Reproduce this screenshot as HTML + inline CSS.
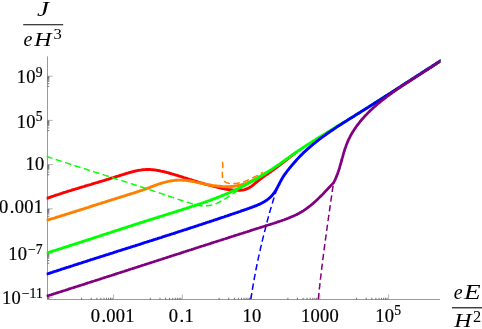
<!DOCTYPE html>
<html><head><meta charset="utf-8">
<style>
html,body{margin:0;padding:0;background:#fff;}
body{width:482px;height:329px;overflow:hidden;position:relative;font-family:"Liberation Serif",serif;}
svg{position:absolute;left:0;top:0;opacity:0.999;will-change:transform;}
text{font-family:"Liberation Serif",serif;fill:#000;}
</style></head><body>
<svg width="482" height="329" viewBox="0 0 482 329">
<rect width="482" height="329" fill="#fff"/>
<defs><clipPath id="pr"><rect x="46.5" y="50" width="394" height="249.3"/></clipPath></defs>
<!-- axes -->
<g stroke="#9a9a9a" stroke-width="1" fill="none">
<line x1="47.5" y1="56.4" x2="47.5" y2="300"/>
<line x1="47" y1="299.5" x2="440" y2="299.5"/>
</g>
<g id="ticks" fill="none">
<line x1="113.6" y1="299.5" x2="113.6" y2="294.4" stroke="#999" stroke-width="0.7"/>
<line x1="81.6" y1="299.5" x2="81.6" y2="297.8" stroke="#333" stroke-width="0.7"/>
<line x1="91.2" y1="299.5" x2="91.2" y2="297.8" stroke="#333" stroke-width="0.7"/>
<line x1="96.9" y1="299.5" x2="96.9" y2="297.8" stroke="#333" stroke-width="0.7"/>
<line x1="100.9" y1="299.5" x2="100.9" y2="297.8" stroke="#333" stroke-width="0.7"/>
<line x1="104.0" y1="299.5" x2="104.0" y2="297.8" stroke="#333" stroke-width="0.7"/>
<line x1="106.5" y1="299.5" x2="106.5" y2="297.8" stroke="#333" stroke-width="0.7"/>
<line x1="108.6" y1="299.5" x2="108.6" y2="297.8" stroke="#333" stroke-width="0.7"/>
<line x1="110.5" y1="299.5" x2="110.5" y2="297.8" stroke="#333" stroke-width="0.7"/>
<line x1="112.1" y1="299.5" x2="112.1" y2="297.8" stroke="#333" stroke-width="0.7"/>
<line x1="182.35" y1="299.5" x2="182.35" y2="294.4" stroke="#999" stroke-width="0.7"/>
<line x1="150.3" y1="299.5" x2="150.3" y2="297.8" stroke="#333" stroke-width="0.7"/>
<line x1="160.0" y1="299.5" x2="160.0" y2="297.8" stroke="#333" stroke-width="0.7"/>
<line x1="165.6" y1="299.5" x2="165.6" y2="297.8" stroke="#333" stroke-width="0.7"/>
<line x1="169.6" y1="299.5" x2="169.6" y2="297.8" stroke="#333" stroke-width="0.7"/>
<line x1="172.7" y1="299.5" x2="172.7" y2="297.8" stroke="#333" stroke-width="0.7"/>
<line x1="175.3" y1="299.5" x2="175.3" y2="297.8" stroke="#333" stroke-width="0.7"/>
<line x1="177.4" y1="299.5" x2="177.4" y2="297.8" stroke="#333" stroke-width="0.7"/>
<line x1="179.2" y1="299.5" x2="179.2" y2="297.8" stroke="#333" stroke-width="0.7"/>
<line x1="180.9" y1="299.5" x2="180.9" y2="297.8" stroke="#333" stroke-width="0.7"/>
<line x1="251.1" y1="299.5" x2="251.1" y2="294.4" stroke="#999" stroke-width="0.7"/>
<line x1="219.1" y1="299.5" x2="219.1" y2="297.8" stroke="#333" stroke-width="0.7"/>
<line x1="228.7" y1="299.5" x2="228.7" y2="297.8" stroke="#333" stroke-width="0.7"/>
<line x1="234.4" y1="299.5" x2="234.4" y2="297.8" stroke="#333" stroke-width="0.7"/>
<line x1="238.4" y1="299.5" x2="238.4" y2="297.8" stroke="#333" stroke-width="0.7"/>
<line x1="241.5" y1="299.5" x2="241.5" y2="297.8" stroke="#333" stroke-width="0.7"/>
<line x1="244.0" y1="299.5" x2="244.0" y2="297.8" stroke="#333" stroke-width="0.7"/>
<line x1="246.1" y1="299.5" x2="246.1" y2="297.8" stroke="#333" stroke-width="0.7"/>
<line x1="248.0" y1="299.5" x2="248.0" y2="297.8" stroke="#333" stroke-width="0.7"/>
<line x1="249.6" y1="299.5" x2="249.6" y2="297.8" stroke="#333" stroke-width="0.7"/>
<line x1="319.85" y1="299.5" x2="319.85" y2="294.4" stroke="#999" stroke-width="0.7"/>
<line x1="287.9" y1="299.5" x2="287.9" y2="297.8" stroke="#333" stroke-width="0.7"/>
<line x1="297.5" y1="299.5" x2="297.5" y2="297.8" stroke="#333" stroke-width="0.7"/>
<line x1="303.1" y1="299.5" x2="303.1" y2="297.8" stroke="#333" stroke-width="0.7"/>
<line x1="307.1" y1="299.5" x2="307.1" y2="297.8" stroke="#333" stroke-width="0.7"/>
<line x1="310.2" y1="299.5" x2="310.2" y2="297.8" stroke="#333" stroke-width="0.7"/>
<line x1="312.8" y1="299.5" x2="312.8" y2="297.8" stroke="#333" stroke-width="0.7"/>
<line x1="314.9" y1="299.5" x2="314.9" y2="297.8" stroke="#333" stroke-width="0.7"/>
<line x1="316.7" y1="299.5" x2="316.7" y2="297.8" stroke="#333" stroke-width="0.7"/>
<line x1="318.4" y1="299.5" x2="318.4" y2="297.8" stroke="#333" stroke-width="0.7"/>
<line x1="388.6" y1="299.5" x2="388.6" y2="294.4" stroke="#999" stroke-width="0.7"/>
<line x1="356.6" y1="299.5" x2="356.6" y2="297.8" stroke="#333" stroke-width="0.7"/>
<line x1="366.2" y1="299.5" x2="366.2" y2="297.8" stroke="#333" stroke-width="0.7"/>
<line x1="371.9" y1="299.5" x2="371.9" y2="297.8" stroke="#333" stroke-width="0.7"/>
<line x1="375.9" y1="299.5" x2="375.9" y2="297.8" stroke="#333" stroke-width="0.7"/>
<line x1="379.0" y1="299.5" x2="379.0" y2="297.8" stroke="#333" stroke-width="0.7"/>
<line x1="381.5" y1="299.5" x2="381.5" y2="297.8" stroke="#333" stroke-width="0.7"/>
<line x1="383.6" y1="299.5" x2="383.6" y2="297.8" stroke="#333" stroke-width="0.7"/>
<line x1="385.5" y1="299.5" x2="385.5" y2="297.8" stroke="#333" stroke-width="0.7"/>
<line x1="387.1" y1="299.5" x2="387.1" y2="297.8" stroke="#333" stroke-width="0.7"/>
<line x1="47.5" y1="76.2" x2="52.8" y2="76.2" stroke="#999" stroke-width="0.7"/>
<line x1="47.5" y1="86.4" x2="49.3" y2="86.4" stroke="#444" stroke-width="0.7"/>
<line x1="47.5" y1="83.7" x2="49.3" y2="83.7" stroke="#444" stroke-width="0.7"/>
<line x1="47.5" y1="81.4" x2="49.3" y2="81.4" stroke="#444" stroke-width="0.7"/>
<line x1="47.5" y1="80.2" x2="49.3" y2="80.2" stroke="#444" stroke-width="0.7"/>
<line x1="47.5" y1="79.2" x2="49.3" y2="79.2" stroke="#444" stroke-width="0.7"/>
<line x1="47.5" y1="78.3" x2="49.3" y2="78.3" stroke="#444" stroke-width="0.7"/>
<line x1="47.5" y1="77.5" x2="49.3" y2="77.5" stroke="#444" stroke-width="0.7"/>
<line x1="47.5" y1="76.8" x2="49.3" y2="76.8" stroke="#444" stroke-width="0.7"/>
<line x1="47.5" y1="120.4" x2="52.8" y2="120.4" stroke="#999" stroke-width="0.7"/>
<line x1="47.5" y1="130.6" x2="49.3" y2="130.6" stroke="#444" stroke-width="0.7"/>
<line x1="47.5" y1="127.9" x2="49.3" y2="127.9" stroke="#444" stroke-width="0.7"/>
<line x1="47.5" y1="125.6" x2="49.3" y2="125.6" stroke="#444" stroke-width="0.7"/>
<line x1="47.5" y1="124.4" x2="49.3" y2="124.4" stroke="#444" stroke-width="0.7"/>
<line x1="47.5" y1="123.4" x2="49.3" y2="123.4" stroke="#444" stroke-width="0.7"/>
<line x1="47.5" y1="122.5" x2="49.3" y2="122.5" stroke="#444" stroke-width="0.7"/>
<line x1="47.5" y1="121.7" x2="49.3" y2="121.7" stroke="#444" stroke-width="0.7"/>
<line x1="47.5" y1="121.0" x2="49.3" y2="121.0" stroke="#444" stroke-width="0.7"/>
<line x1="47.5" y1="164.6" x2="52.8" y2="164.6" stroke="#999" stroke-width="0.7"/>
<line x1="47.5" y1="174.8" x2="49.3" y2="174.8" stroke="#444" stroke-width="0.7"/>
<line x1="47.5" y1="172.1" x2="49.3" y2="172.1" stroke="#444" stroke-width="0.7"/>
<line x1="47.5" y1="169.8" x2="49.3" y2="169.8" stroke="#444" stroke-width="0.7"/>
<line x1="47.5" y1="168.6" x2="49.3" y2="168.6" stroke="#444" stroke-width="0.7"/>
<line x1="47.5" y1="167.6" x2="49.3" y2="167.6" stroke="#444" stroke-width="0.7"/>
<line x1="47.5" y1="166.7" x2="49.3" y2="166.7" stroke="#444" stroke-width="0.7"/>
<line x1="47.5" y1="165.9" x2="49.3" y2="165.9" stroke="#444" stroke-width="0.7"/>
<line x1="47.5" y1="165.2" x2="49.3" y2="165.2" stroke="#444" stroke-width="0.7"/>
<line x1="47.5" y1="208.8" x2="52.8" y2="208.8" stroke="#999" stroke-width="0.7"/>
<line x1="47.5" y1="219.0" x2="49.3" y2="219.0" stroke="#444" stroke-width="0.7"/>
<line x1="47.5" y1="216.3" x2="49.3" y2="216.3" stroke="#444" stroke-width="0.7"/>
<line x1="47.5" y1="214.0" x2="49.3" y2="214.0" stroke="#444" stroke-width="0.7"/>
<line x1="47.5" y1="212.8" x2="49.3" y2="212.8" stroke="#444" stroke-width="0.7"/>
<line x1="47.5" y1="211.8" x2="49.3" y2="211.8" stroke="#444" stroke-width="0.7"/>
<line x1="47.5" y1="210.9" x2="49.3" y2="210.9" stroke="#444" stroke-width="0.7"/>
<line x1="47.5" y1="210.1" x2="49.3" y2="210.1" stroke="#444" stroke-width="0.7"/>
<line x1="47.5" y1="209.4" x2="49.3" y2="209.4" stroke="#444" stroke-width="0.7"/>
<line x1="47.5" y1="253.0" x2="52.8" y2="253.0" stroke="#999" stroke-width="0.7"/>
<line x1="47.5" y1="263.2" x2="49.3" y2="263.2" stroke="#444" stroke-width="0.7"/>
<line x1="47.5" y1="260.5" x2="49.3" y2="260.5" stroke="#444" stroke-width="0.7"/>
<line x1="47.5" y1="258.2" x2="49.3" y2="258.2" stroke="#444" stroke-width="0.7"/>
<line x1="47.5" y1="257.0" x2="49.3" y2="257.0" stroke="#444" stroke-width="0.7"/>
<line x1="47.5" y1="256.0" x2="49.3" y2="256.0" stroke="#444" stroke-width="0.7"/>
<line x1="47.5" y1="255.1" x2="49.3" y2="255.1" stroke="#444" stroke-width="0.7"/>
<line x1="47.5" y1="254.3" x2="49.3" y2="254.3" stroke="#444" stroke-width="0.7"/>
<line x1="47.5" y1="253.6" x2="49.3" y2="253.6" stroke="#444" stroke-width="0.7"/>
<line x1="47.5" y1="297.2" x2="52.8" y2="297.2" stroke="#999" stroke-width="0.7"/>
<line x1="47.5" y1="298.5" x2="49.3" y2="298.5" stroke="#444" stroke-width="0.7"/>
<line x1="47.5" y1="297.8" x2="49.3" y2="297.8" stroke="#444" stroke-width="0.7"/>
</g>
<!-- solid -->
<g fill="none" stroke-linejoin="round" clip-path="url(#pr)">
<path stroke="#ff0000" stroke-width="2.9" d="M46.4,198.5 L47.4,198.2 L48.3,197.8 L49.3,197.5 L50.2,197.2 L51.2,196.8 L52.1,196.5 L53.1,196.2 L54.0,195.9 L55.0,195.5 L55.9,195.2 L56.9,194.9 L57.8,194.6 L58.8,194.3 L59.7,194.0 L60.7,193.7 L61.6,193.4 L62.6,193.0 L63.5,192.7 L64.5,192.4 L65.5,192.1 L66.4,191.8 L67.4,191.5 L68.3,191.2 L69.3,190.9 L70.2,190.6 L71.2,190.3 L72.1,190.0 L73.1,189.7 L74.0,189.5 L75.0,189.2 L75.9,188.9 L76.9,188.6 L77.8,188.3 L78.8,188.0 L79.7,187.7 L80.7,187.4 L81.6,187.1 L82.6,186.8 L83.5,186.6 L84.5,186.3 L85.4,186.0 L86.4,185.7 L87.4,185.4 L88.3,185.1 L89.3,184.8 L90.2,184.6 L91.2,184.3 L92.1,184.0 L93.1,183.7 L94.0,183.4 L95.0,183.1 L95.9,182.8 L96.9,182.6 L97.8,182.3 L98.8,182.0 L99.8,181.7 L100.7,181.4 L101.7,181.1 L102.6,180.8 L103.6,180.6 L104.5,180.3 L105.5,180.0 L106.5,179.7 L107.4,179.4 L108.4,179.1 L109.3,178.8 L110.3,178.5 L111.2,178.2 L112.2,177.9 L113.2,177.6 L114.1,177.3 L115.1,177.0 L116.0,176.7 L117.0,176.4 L118.0,176.1 L118.9,175.8 L119.9,175.5 L120.8,175.2 L121.8,174.9 L122.8,174.6 L123.7,174.3 L124.7,174.0 L125.7,173.7 L126.6,173.4 L127.6,173.1 L128.6,172.8 L129.5,172.5 L130.5,172.3 L131.5,172.0 L132.4,171.8 L133.4,171.5 L134.4,171.3 L135.3,171.0 L136.3,170.8 L137.3,170.6 L138.3,170.4 L139.2,170.3 L140.2,170.1 L141.2,170.0 L142.2,169.8 L143.2,169.7 L144.2,169.6 L145.1,169.6 L146.1,169.5 L147.1,169.5 L148.1,169.5 L149.1,169.5 L150.1,169.5 L151.1,169.6 L152.1,169.7 L153.1,169.8 L154.1,169.9 L155.1,170.0 L156.1,170.1 L157.1,170.3 L158.1,170.5 L159.0,170.7 L160.0,170.8 L161.0,171.1 L162.0,171.3 L163.0,171.5 L164.0,171.7 L165.0,172.0 L165.9,172.2 L166.9,172.5 L167.9,172.7 L168.9,173.0 L169.8,173.3 L170.8,173.5 L171.7,173.8 L172.7,174.1 L173.7,174.4 L174.6,174.7 L175.6,175.0 L176.5,175.2 L177.5,175.5 L178.4,175.8 L179.4,176.1 L180.3,176.4 L181.3,176.7 L182.2,177.0 L183.2,177.3 L184.1,177.6 L185.1,177.9 L186.0,178.2 L187.0,178.5 L187.9,178.8 L188.9,179.1 L189.8,179.4 L190.8,179.7 L191.7,180.0 L192.7,180.3 L193.6,180.6 L194.6,180.9 L195.6,181.2 L196.5,181.5 L197.5,181.8 L198.4,182.1 L199.4,182.4 L200.3,182.7 L201.3,183.0 L202.3,183.2 L203.2,183.5 L204.2,183.8 L205.1,184.1 L206.1,184.3 L207.1,184.6 L208.0,184.9 L209.0,185.2 L210.0,185.4 L210.9,185.7 L211.9,185.9 L212.9,186.2 L213.8,186.4 L214.8,186.7 L215.8,186.9 L216.8,187.2 L217.7,187.4 L218.7,187.6 L219.7,187.9 L220.7,188.1 L221.6,188.3 L222.6,188.5 L223.6,188.7 L224.6,188.9 L225.5,189.1 L226.5,189.3 L227.5,189.4 L228.5,189.6 L229.5,189.7 L230.5,189.8 L231.5,189.9 L232.5,190.0 L233.5,190.1 L234.5,190.2 L235.5,190.2 L236.5,190.3 L237.5,190.3 L238.5,190.3 L239.5,190.2 L240.5,190.2 L241.5,190.1 L242.5,190.0 L243.5,189.8 L244.5,189.6 L245.4,189.3 L246.4,189.0 L247.3,188.6 L248.2,188.2 L249.1,187.8 L250.0,187.3 L250.8,186.7 L251.6,186.2 L252.4,185.6 L253.2,185.0 L254.0,184.3 L254.7,183.7 L255.5,183.0 L256.3,182.4 L257.1,181.7 L257.8,181.1 L258.6,180.5 L259.4,179.8 L260.2,179.2 L261.0,178.6 L261.8,178.0 L262.6,177.4 L263.4,176.8 L264.2,176.3 L265.0,175.7 L265.8,175.1 L266.7,174.5 L267.5,174.0 L268.3,173.4 L269.1,172.8 L269.9,172.2 L270.8,171.7 L271.6,171.1 L272.4,170.5 L273.2,169.9 L274.0,169.3 L274.8,168.8 L275.6,168.2 L276.4,167.6 L277.2,167.0 L278.0,166.4 L278.8,165.8 L279.6,165.2 L280.4,164.5 L281.2,163.9 L282.0,163.3 L282.8,162.7 L283.6,162.1 L284.4,161.5 L285.2,160.9 L285.9,160.2 L286.7,159.6 L287.5,159.0 L288.3,158.4 L289.1,157.8 L289.9,157.2 L290.7,156.5 L291.5,155.9 L292.3,155.3 L293.0,154.7 L293.8,154.1 L294.6,153.5 L295.4,152.9 L296.2,152.3 L296.7,151.9"/>
<path stroke="#ff8000" stroke-width="2.9" d="M46.4,220.4 L47.4,220.1 L48.3,219.8 L49.3,219.5 L50.2,219.2 L51.2,218.9 L52.1,218.6 L53.1,218.4 L54.1,218.1 L55.0,217.8 L56.0,217.5 L56.9,217.2 L57.9,216.9 L58.8,216.6 L59.8,216.3 L60.7,216.0 L61.7,215.7 L62.7,215.4 L63.6,215.1 L64.6,214.8 L65.5,214.5 L66.5,214.2 L67.4,213.9 L68.4,213.6 L69.3,213.3 L70.3,213.0 L71.2,212.7 L72.2,212.4 L73.1,212.1 L74.1,211.8 L75.1,211.5 L76.0,211.2 L77.0,210.9 L77.9,210.6 L78.9,210.3 L79.8,210.0 L80.8,209.7 L81.7,209.4 L82.7,209.1 L83.6,208.8 L84.6,208.5 L85.5,208.2 L86.5,207.9 L87.4,207.6 L88.4,207.3 L89.3,207.0 L90.3,206.6 L91.2,206.3 L92.2,206.0 L93.1,205.7 L94.1,205.4 L95.1,205.1 L96.0,204.8 L97.0,204.5 L97.9,204.2 L98.9,203.9 L99.8,203.6 L100.8,203.3 L101.7,203.0 L102.7,202.7 L103.6,202.4 L104.6,202.1 L105.5,201.8 L106.5,201.5 L107.4,201.2 L108.4,200.9 L109.3,200.6 L110.3,200.3 L111.3,200.0 L112.2,199.7 L113.2,199.4 L114.1,199.1 L115.1,198.8 L116.0,198.5 L117.0,198.2 L117.9,197.9 L118.9,197.6 L119.8,197.3 L120.8,197.0 L121.8,196.7 L122.7,196.4 L123.7,196.1 L124.6,195.8 L125.6,195.5 L126.5,195.2 L127.5,194.9 L128.4,194.6 L129.4,194.3 L130.4,194.0 L131.3,193.7 L132.3,193.4 L133.2,193.1 L134.2,192.8 L135.1,192.5 L136.1,192.2 L137.0,191.9 L138.0,191.5 L138.9,191.2 L139.9,190.9 L140.8,190.6 L141.8,190.3 L142.7,190.0 L143.7,189.6 L144.6,189.3 L145.6,189.0 L146.5,188.6 L147.4,188.3 L148.4,187.9 L149.3,187.6 L150.2,187.2 L151.2,186.9 L152.1,186.5 L153.0,186.2 L153.9,185.8 L154.9,185.5 L155.8,185.1 L156.7,184.8 L157.7,184.4 L158.6,184.1 L159.6,183.8 L160.5,183.5 L161.5,183.2 L162.4,182.9 L163.4,182.6 L164.4,182.3 L165.4,182.1 L166.3,181.8 L167.3,181.6 L168.3,181.4 L169.3,181.2 L170.3,181.0 L171.3,180.8 L172.3,180.7 L173.3,180.6 L174.3,180.4 L175.3,180.3 L176.2,180.2 L177.2,180.2 L178.2,180.1 L179.2,180.1 L180.2,180.1 L181.2,180.1 L182.2,180.1 L183.2,180.2 L184.2,180.2 L185.2,180.3 L186.2,180.4 L187.2,180.5 L188.1,180.7 L189.1,180.8 L190.1,181.0 L191.1,181.2 L192.1,181.3 L193.0,181.5 L194.0,181.7 L195.0,181.9 L196.0,182.1 L197.0,182.4 L197.9,182.6 L198.9,182.8 L199.9,183.0 L200.9,183.2 L201.9,183.4 L202.9,183.6 L203.9,183.8 L204.8,184.0 L205.8,184.2 L206.8,184.4 L207.8,184.6 L208.8,184.8 L209.8,185.0 L210.8,185.2 L211.8,185.3 L212.8,185.5 L213.8,185.6 L214.8,185.8 L215.7,185.9 L216.7,186.0 L217.7,186.1 L218.7,186.2 L219.7,186.3 L220.7,186.4 L221.7,186.5 L222.7,186.6 L223.7,186.6 L224.7,186.6 L225.7,186.7 L226.7,186.7 L227.7,186.7 L228.6,186.6 L229.6,186.6 L230.6,186.5 L231.6,186.5 L232.6,186.4 L233.6,186.3 L234.6,186.2 L235.6,186.0 L236.5,185.9 L237.5,185.7 L238.5,185.5 L239.5,185.3 L240.5,185.1 L241.4,184.8 L242.4,184.5 L243.4,184.2 L244.3,183.9 L245.3,183.6 L246.2,183.3 L247.2,182.9 L248.1,182.5 L249.1,182.2 L250.0,181.8 L250.9,181.3 L251.8,180.9 L252.7,180.5 L253.6,180.1 L254.5,179.6 L255.4,179.1 L256.3,178.7 L257.1,178.2 L258.0,177.7 L258.9,177.2 L259.7,176.7 L260.6,176.2 L261.4,175.7 L262.3,175.2 L263.2,174.7 L264.0,174.2 L264.9,173.7 L265.7,173.2 L266.6,172.7 L266.7,172.6"/>
<path stroke="#ff8000" stroke-width="1.5" stroke-dasharray="6.4,3.45" d="M222.5,161.8 L222.6,162.8 L222.7,163.9 L222.8,164.9 L222.8,165.9 L222.7,166.9 L222.7,167.8 L222.6,168.8 L222.5,169.8 L222.5,170.8 L222.4,171.7 L222.4,172.7 L222.3,173.7 L222.4,174.7 L222.4,175.8 L222.5,176.8 L222.7,177.9 L223.0,178.9 L223.3,179.9 L223.8,180.7 L224.5,181.4 L225.2,182.0 L226.0,182.4 L227.0,182.8 L227.9,183.1 L228.9,183.3 L230.0,183.4 L231.0,183.5 L232.0,183.5 L233.0,183.6 L234.0,183.5 L235.0,183.5 L236.0,183.4 L237.0,183.3 L238.0,183.1 L238.9,183.0 L239.9,182.8 L240.9,182.5 L241.8,182.3 L242.8,182.0 L243.8,181.7 L244.7,181.4 L245.6,181.0 L246.6,180.6 L247.5,180.3 L248.4,179.9 L249.4,179.5 L250.3,179.0 L251.2,178.6 L252.1,178.2 L253.0,177.7 L253.9,177.2 L254.8,176.8 L255.7,176.3 L256.6,175.8 L257.5,175.3 L258.3,174.9 L259.2,174.4 L260.1,173.9 L260.9,173.4 L261.8,172.9 L262.7,172.5 L263.0,172.3"/>
<path stroke="#00ff00" stroke-width="2.9" d="M46.4,253.1 L47.4,252.8 L48.3,252.5 L49.3,252.2 L50.2,251.9 L51.2,251.6 L52.1,251.3 L53.1,251.0 L54.0,250.7 L55.0,250.4 L55.9,250.1 L56.9,249.8 L57.8,249.5 L58.8,249.2 L59.7,248.9 L60.7,248.6 L61.6,248.3 L62.6,248.0 L63.5,247.7 L64.5,247.4 L65.4,247.1 L66.4,246.8 L67.4,246.5 L68.3,246.2 L69.3,245.8 L70.2,245.5 L71.2,245.2 L72.1,244.9 L73.1,244.6 L74.0,244.3 L75.0,244.0 L75.9,243.7 L76.9,243.4 L77.8,243.1 L78.8,242.8 L79.7,242.5 L80.7,242.2 L81.6,241.9 L82.6,241.5 L83.5,241.2 L84.5,240.9 L85.4,240.6 L86.4,240.3 L87.3,240.0 L88.3,239.7 L89.2,239.4 L90.2,239.1 L91.1,238.8 L92.1,238.5 L93.1,238.1 L94.0,237.8 L95.0,237.5 L95.9,237.2 L96.9,236.9 L97.8,236.6 L98.8,236.3 L99.7,236.0 L100.7,235.7 L101.6,235.4 L102.6,235.0 L103.5,234.7 L104.5,234.4 L105.4,234.1 L106.4,233.8 L107.3,233.5 L108.3,233.2 L109.2,232.9 L110.2,232.6 L111.1,232.3 L112.1,231.9 L113.0,231.6 L114.0,231.3 L114.9,231.0 L115.9,230.7 L116.8,230.4 L117.8,230.1 L118.7,229.8 L119.7,229.5 L120.6,229.2 L121.6,228.8 L122.6,228.5 L123.5,228.2 L124.5,227.9 L125.4,227.6 L126.4,227.3 L127.3,227.0 L128.3,226.7 L129.2,226.4 L130.2,226.1 L131.1,225.8 L132.1,225.5 L133.0,225.2 L134.0,224.9 L134.9,224.5 L135.9,224.2 L136.8,223.9 L137.8,223.6 L138.7,223.3 L139.7,223.0 L140.6,222.7 L141.6,222.4 L142.5,222.1 L143.5,221.8 L144.4,221.5 L145.4,221.2 L146.4,220.9 L147.3,220.6 L148.3,220.3 L149.2,220.0 L150.2,219.7 L151.1,219.4 L152.1,219.1 L153.0,218.8 L154.0,218.5 L154.9,218.2 L155.9,217.9 L156.8,217.6 L157.8,217.3 L158.7,217.0 L159.7,216.7 L160.6,216.4 L161.6,216.1 L162.6,215.8 L163.5,215.5 L164.5,215.2 L165.4,214.9 L166.4,214.6 L167.3,214.3 L168.3,214.0 L169.2,213.7 L170.2,213.4 L171.1,213.1 L172.1,212.8 L173.0,212.5 L174.0,212.2 L174.9,211.9 L175.9,211.6 L176.8,211.3 L177.8,211.0 L178.8,210.7 L179.7,210.4 L180.7,210.1 L181.6,209.8 L182.6,209.5 L183.5,209.2 L184.5,208.9 L185.4,208.6 L186.4,208.3 L187.3,208.0 L188.3,207.7 L189.2,207.4 L190.2,207.0 L191.1,206.7 L192.1,206.4 L193.0,206.1 L194.0,205.8 L194.9,205.5 L195.9,205.2 L196.8,204.9 L197.8,204.5 L198.7,204.2 L199.7,203.9 L200.6,203.6 L201.6,203.3 L202.5,202.9 L203.5,202.6 L204.4,202.3 L205.4,202.0 L206.3,201.6 L207.3,201.3 L208.2,200.9 L209.2,200.6 L210.1,200.3 L211.0,199.9 L212.0,199.6 L212.9,199.2 L213.9,198.9 L214.8,198.5 L215.7,198.2 L216.7,197.8 L217.6,197.5 L218.5,197.1 L219.5,196.7 L220.4,196.4 L221.3,196.0 L222.2,195.6 L223.2,195.2 L224.1,194.9 L225.0,194.5 L225.9,194.1 L226.9,193.7 L227.8,193.3 L228.7,192.9 L229.6,192.5 L230.5,192.1 L231.4,191.7 L232.3,191.3 L233.3,190.9 L234.2,190.5 L235.1,190.0 L236.0,189.6 L236.9,189.2 L237.8,188.8 L238.7,188.3 L239.6,187.9 L240.5,187.4 L241.4,187.0 L242.2,186.5 L243.1,186.1 L244.0,185.6 L244.9,185.2 L245.8,184.7 L246.7,184.2 L247.6,183.8 L248.4,183.3 L249.3,182.8 L250.2,182.3 L251.1,181.8 L251.9,181.3 L252.8,180.9 L253.7,180.4 L254.5,179.9 L255.4,179.4 L256.3,178.9 L257.1,178.4 L258.0,177.9 L258.9,177.3 L259.7,176.8 L260.6,176.3 L261.4,175.8 L262.3,175.3 L263.1,174.7 L264.0,174.2 L264.8,173.7 L265.7,173.2 L266.5,172.6 L267.4,172.1 L268.2,171.6 L269.1,171.0 L269.9,170.5 L270.7,169.9 L271.6,169.4 L272.4,168.8 L273.2,168.3 L274.1,167.7 L274.9,167.2 L275.7,166.6 L276.6,166.0 L277.4,165.5 L278.2,164.9 L279.1,164.4 L279.9,163.8 L280.7,163.2 L281.5,162.6 L282.3,162.1 L283.2,161.5 L284.0,160.9 L284.8,160.3 L285.6,159.8 L286.4,159.2 L287.2,158.6 L288.1,158.0 L288.9,157.5 L289.7,156.9 L290.5,156.3 L291.3,155.7 L292.1,155.1 L293.0,154.6 L293.8,154.0 L294.6,153.4 L295.4,152.9 L296.2,152.3 L297.1,151.7 L297.9,151.1 L298.7,150.6 L299.5,150.0 L300.4,149.5 L301.2,148.9 L302.0,148.3 L302.8,147.8 L303.7,147.2 L304.5,146.7 L305.3,146.1 L306.2,145.6 L307.0,145.0 L307.8,144.5 L308.7,143.9 L309.5,143.4 L310.4,142.9 L311.2,142.3 L312.1,141.8 L312.9,141.3 L313.7,140.7 L314.6,140.2 L315.4,139.7 L316.3,139.1 L317.1,138.6 L318.0,138.1 L318.8,137.5 L319.7,137.0 L320.5,136.5 L321.4,136.0 L322.2,135.5 L323.1,134.9 L324.0,134.4 L324.8,133.9 L325.7,133.4 L326.5,132.9 L327.4,132.3 L328.2,131.8 L329.1,131.3 L329.9,130.8 L330.8,130.3 L331.7,129.7 L332.5,129.2 L333.4,128.7 L334.2,128.2 L335.1,127.7 L335.9,127.1 L336.8,126.6 L337.6,126.1 L338.5,125.6 L339.3,125.1 L340.2,124.5 L341.1,124.0 L341.9,123.5 L342.8,123.0 L343.6,122.5 L344.5,121.9 L345.3,121.4 L346.2,120.9 L347.0,120.4 L347.9,119.9 L348.7,119.3 L349.6,118.8 L350.4,118.3 L351.3,117.8 L352.1,117.2 L353.0,116.7 L353.8,116.2 L354.7,115.7 L355.5,115.1 L356.4,114.6 L357.2,114.1 L358.1,113.6 L358.9,113.0 L359.8,112.5 L360.6,112.0 L361.5,111.5 L362.3,110.9 L363.2,110.4 L364.0,109.9 L364.9,109.3 L365.7,108.8 L366.6,108.3 L367.4,107.7 L368.3,107.2 L369.1,106.7 L370.0,106.2 L370.8,105.6 L371.7,105.1 L372.5,104.6 L373.4,104.0 L374.2,103.5 L375.0,102.9 L375.9,102.4 L376.7,101.9 L377.6,101.3 L378.4,100.8 L379.3,100.3 L380.1,99.7 L380.9,99.2 L381.8,98.6 L382.6,98.1 L383.5,97.6 L384.3,97.0 L385.2,96.5 L386.0,95.9 L386.8,95.4 L387.7,94.9 L388.5,94.3 L389.4,93.8 L390.2,93.2 L391.0,92.7 L391.9,92.2 L392.7,91.6 L393.6,91.1 L394.4,90.5 L395.2,90.0 L396.1,89.4 L396.9,88.9 L397.8,88.4 L398.6,87.8 L399.4,87.3 L400.3,86.7 L401.1,86.2 L402.0,85.6 L402.8,85.1 L403.6,84.6 L404.5,84.0 L405.3,83.5 L406.2,82.9 L407.0,82.4 L407.8,81.8 L408.7,81.3 L409.5,80.7 L410.4,80.2 L411.2,79.7 L412.0,79.1 L412.9,78.6 L413.7,78.0 L414.6,77.5 L415.4,76.9 L416.2,76.4 L417.1,75.9 L417.9,75.3 L418.8,74.8 L419.6,74.2 L420.4,73.7 L421.3,73.1 L422.1,72.6 L423.0,72.1 L423.8,71.5 L424.6,71.0 L425.5,70.4 L426.3,69.9 L427.2,69.4 L428.0,68.8 L428.8,68.3 L429.7,67.7 L430.5,67.2 L431.4,66.7 L432.2,66.1 L433.1,65.6 L433.9,65.0 L434.7,64.5 L435.6,64.0 L436.4,63.4 L437.3,62.9 L438.1,62.4 L439.0,61.8 L439.8,61.3 L440.7,60.8 L441.5,60.2 L441.5,60.2"/>
<path stroke="#00ff00" stroke-width="1.5" stroke-dasharray="6.4,3.45" d="M46.4,156.3 L47.3,156.7 L48.3,157.0 L49.2,157.3 L50.2,157.6 L51.1,157.9 L52.1,158.2 L53.0,158.6 L54.0,158.9 L54.9,159.2 L55.9,159.5 L56.8,159.8 L57.8,160.1 L58.7,160.4 L59.7,160.7 L60.6,161.1 L61.6,161.4 L62.5,161.7 L63.5,162.0 L64.4,162.3 L65.4,162.6 L66.3,162.9 L67.3,163.2 L68.2,163.5 L69.2,163.8 L70.1,164.1 L71.1,164.5 L72.0,164.8 L73.0,165.1 L73.9,165.4 L74.9,165.7 L75.8,166.0 L76.8,166.3 L77.8,166.6 L78.7,166.9 L79.7,167.2 L80.6,167.5 L81.6,167.8 L82.5,168.1 L83.5,168.4 L84.4,168.7 L85.4,169.0 L86.3,169.3 L87.3,169.7 L88.2,170.0 L89.2,170.3 L90.1,170.6 L91.1,170.9 L92.0,171.2 L93.0,171.5 L94.0,171.8 L94.9,172.1 L95.9,172.4 L96.8,172.7 L97.8,173.0 L98.7,173.3 L99.7,173.6 L100.6,173.9 L101.6,174.2 L102.5,174.5 L103.5,174.8 L104.4,175.1 L105.4,175.4 L106.3,175.7 L107.3,176.0 L108.3,176.3 L109.2,176.6 L110.2,176.9 L111.1,177.2 L112.1,177.5 L113.0,177.8 L114.0,178.1 L114.9,178.5 L115.9,178.8 L116.8,179.1 L117.8,179.4 L118.7,179.7 L119.7,180.0 L120.6,180.3 L121.6,180.6 L122.6,180.9 L123.5,181.2 L124.5,181.5 L125.4,181.8 L126.4,182.1 L127.3,182.4 L128.3,182.7 L129.2,183.0 L130.2,183.3 L131.1,183.6 L132.1,183.9 L133.0,184.3 L134.0,184.6 L134.9,184.9 L135.9,185.2 L136.8,185.5 L137.8,185.8 L138.7,186.1 L139.7,186.4 L140.6,186.7 L141.6,187.0 L142.5,187.3 L143.5,187.6 L144.4,188.0 L145.4,188.3 L146.3,188.6 L147.3,188.9 L148.2,189.2 L149.2,189.5 L150.1,189.8 L151.1,190.1 L152.0,190.4 L153.0,190.8 L153.9,191.1 L154.9,191.4 L155.8,191.7 L156.8,192.0 L157.7,192.3 L158.7,192.7 L159.6,193.0 L160.6,193.3 L161.5,193.6 L162.5,193.9 L163.4,194.2 L164.4,194.6 L165.3,194.9 L166.3,195.2 L167.2,195.5 L168.1,195.8 L169.1,196.2 L170.0,196.5 L171.0,196.8 L171.9,197.1 L172.9,197.4 L173.8,197.8 L174.8,198.1 L175.7,198.4 L176.7,198.7 L177.6,199.1 L178.5,199.4 L179.5,199.7 L180.4,200.0 L181.4,200.3 L182.3,200.7 L183.3,201.0 L184.2,201.3 L185.2,201.6 L186.1,201.9 L187.1,202.2 L188.1,202.5 L189.0,202.8 L190.0,203.1 L190.9,203.4 L191.9,203.7 L192.9,204.0 L193.8,204.3 L194.8,204.6 L195.8,204.8 L196.8,205.0 L197.7,205.3 L198.7,205.4 L199.7,205.6 L200.7,205.7 L201.7,205.8 L202.7,205.9 L203.7,205.9 L204.7,205.9 L205.7,205.9 L206.6,205.8 L207.6,205.8 L208.6,205.6 L209.6,205.5 L210.6,205.3 L211.5,205.1 L212.5,204.8 L213.4,204.5 L214.4,204.2 L215.3,203.8 L216.2,203.5 L217.2,203.1 L218.1,202.6 L219.0,202.2 L219.9,201.7 L220.8,201.3 L221.7,200.8 L222.5,200.3 L223.4,199.8 L224.3,199.3 L225.1,198.8 L226.0,198.3 L226.9,197.7 L227.7,197.2 L228.5,196.6 L229.4,196.1 L230.2,195.5 L231.1,195.0 L231.9,194.4 L232.7,193.8 L233.6,193.3 L234.4,192.7 L235.2,192.1 L236.0,191.6 L236.8,191.0 L237.7,190.5 L238.5,189.9 L239.3,189.3 L240.1,188.8 L241.0,188.2 L241.0,188.2"/>
<path stroke="#0000ff" stroke-width="2.9" d="M46.4,274.2 L47.3,273.9 L48.3,273.6 L49.2,273.3 L50.2,273.0 L51.1,272.6 L52.1,272.3 L53.0,272.0 L54.0,271.7 L54.9,271.4 L55.9,271.1 L56.8,270.8 L57.8,270.5 L58.7,270.2 L59.7,269.9 L60.6,269.6 L61.6,269.2 L62.5,268.9 L63.5,268.6 L64.4,268.3 L65.4,268.0 L66.4,267.7 L67.3,267.4 L68.3,267.1 L69.2,266.8 L70.2,266.5 L71.1,266.2 L72.1,265.9 L73.0,265.6 L74.0,265.2 L74.9,264.9 L75.9,264.6 L76.8,264.3 L77.8,264.0 L78.7,263.7 L79.7,263.4 L80.6,263.1 L81.6,262.8 L82.5,262.5 L83.5,262.2 L84.4,261.9 L85.4,261.6 L86.3,261.3 L87.3,261.0 L88.2,260.7 L89.2,260.4 L90.1,260.0 L91.1,259.7 L92.1,259.4 L93.0,259.1 L94.0,258.8 L94.9,258.5 L95.9,258.2 L96.8,257.9 L97.8,257.6 L98.7,257.3 L99.7,257.0 L100.6,256.7 L101.6,256.4 L102.5,256.1 L103.5,255.8 L104.4,255.5 L105.4,255.2 L106.3,254.9 L107.3,254.6 L108.3,254.3 L109.2,254.0 L110.2,253.7 L111.1,253.4 L112.1,253.1 L113.0,252.8 L114.0,252.4 L114.9,252.1 L115.9,251.8 L116.8,251.5 L117.8,251.2 L118.7,250.9 L119.7,250.6 L120.7,250.3 L121.6,250.0 L122.6,249.7 L123.5,249.4 L124.5,249.1 L125.4,248.8 L126.4,248.5 L127.3,248.2 L128.3,247.9 L129.2,247.6 L130.2,247.3 L131.1,247.0 L132.1,246.7 L133.0,246.4 L134.0,246.1 L135.0,245.8 L135.9,245.5 L136.9,245.2 L137.8,244.9 L138.8,244.6 L139.7,244.3 L140.7,244.0 L141.6,243.6 L142.6,243.3 L143.5,243.0 L144.5,242.7 L145.4,242.4 L146.4,242.1 L147.3,241.8 L148.3,241.5 L149.3,241.2 L150.2,240.9 L151.2,240.6 L152.1,240.3 L153.1,240.0 L154.0,239.7 L155.0,239.4 L155.9,239.1 L156.9,238.8 L157.8,238.5 L158.8,238.2 L159.7,237.9 L160.7,237.6 L161.6,237.3 L162.6,236.9 L163.5,236.6 L164.5,236.3 L165.5,236.0 L166.4,235.7 L167.4,235.4 L168.3,235.1 L169.3,234.8 L170.2,234.5 L171.2,234.2 L172.1,233.9 L173.1,233.6 L174.0,233.3 L175.0,233.0 L175.9,232.7 L176.9,232.4 L177.8,232.0 L178.8,231.7 L179.7,231.4 L180.7,231.1 L181.6,230.8 L182.6,230.5 L183.5,230.2 L184.5,229.9 L185.4,229.6 L186.4,229.3 L187.3,229.0 L188.3,228.7 L189.2,228.3 L190.2,228.0 L191.1,227.7 L192.1,227.4 L193.0,227.1 L194.0,226.8 L194.9,226.5 L195.9,226.2 L196.8,225.9 L197.8,225.6 L198.7,225.2 L199.7,224.9 L200.6,224.6 L201.6,224.3 L202.5,224.0 L203.5,223.7 L204.4,223.4 L205.4,223.1 L206.3,222.7 L207.3,222.4 L208.2,222.1 L209.2,221.8 L210.1,221.5 L211.1,221.2 L212.0,220.9 L213.0,220.6 L213.9,220.2 L214.9,219.9 L215.8,219.6 L216.7,219.3 L217.7,219.0 L218.6,218.7 L219.6,218.3 L220.5,218.0 L221.5,217.7 L222.4,217.4 L223.4,217.1 L224.3,216.8 L225.3,216.4 L226.2,216.1 L227.2,215.8 L228.1,215.5 L229.1,215.2 L230.0,214.8 L230.9,214.5 L231.9,214.2 L232.8,213.9 L233.8,213.6 L234.7,213.2 L235.7,212.9 L236.6,212.6 L237.6,212.3 L238.5,211.9 L239.5,211.6 L240.4,211.3 L241.4,210.9 L242.3,210.6 L243.2,210.3 L244.2,210.0 L245.1,209.6 L246.1,209.3 L247.0,209.0 L248.0,208.6 L248.9,208.3 L249.9,207.9 L250.8,207.6 L251.8,207.3 L252.7,206.9 L253.7,206.6 L254.6,206.2 L255.6,205.8 L256.5,205.5 L257.4,205.1 L258.4,204.7 L259.3,204.3 L260.2,203.9 L261.1,203.4 L262.0,203.0 L262.8,202.5 L263.7,202.0 L264.6,201.5 L265.4,201.0 L266.2,200.4 L267.0,199.9 L267.8,199.3 L268.6,198.7 L269.4,198.0 L270.1,197.4 L270.8,196.7 L271.5,196.0 L272.2,195.2 L272.9,194.5 L273.5,193.7 L274.1,192.9 L274.7,192.1 L275.2,191.3 L275.8,190.4 L276.3,189.6 L276.7,188.7 L277.2,187.8 L277.7,186.9 L278.1,186.0 L278.6,185.1 L279.1,184.2 L279.5,183.3 L280.0,182.4 L280.4,181.5 L280.9,180.7 L281.4,179.8 L281.9,178.9 L282.4,178.1 L282.9,177.2 L283.5,176.4 L284.0,175.5 L284.6,174.7 L285.2,173.9 L285.7,173.1 L286.3,172.3 L286.9,171.5 L287.5,170.7 L288.2,169.9 L288.8,169.1 L289.4,168.3 L290.0,167.6 L290.7,166.8 L291.3,166.0 L292.0,165.3 L292.6,164.5 L293.3,163.7 L293.9,163.0 L294.6,162.2 L295.2,161.5 L295.9,160.7 L296.6,160.0 L297.2,159.2 L297.9,158.5 L298.6,157.8 L299.3,157.0 L300.0,156.3 L300.7,155.6 L301.4,154.9 L302.1,154.2 L302.8,153.5 L303.5,152.8 L304.2,152.1 L305.0,151.4 L305.7,150.8 L306.4,150.1 L307.2,149.4 L307.9,148.7 L308.7,148.1 L309.4,147.4 L310.2,146.8 L310.9,146.1 L311.7,145.5 L312.5,144.8 L313.2,144.2 L314.0,143.6 L314.8,142.9 L315.6,142.3 L316.4,141.7 L317.1,141.1 L317.9,140.5 L318.7,139.8 L319.5,139.2 L320.3,138.6 L321.1,138.0 L321.9,137.4 L322.7,136.8 L323.5,136.2 L324.3,135.7 L325.2,135.1 L326.0,134.5 L326.8,133.9 L327.6,133.3 L328.4,132.8 L329.3,132.2 L330.1,131.6 L330.9,131.0 L331.7,130.5 L332.6,129.9 L333.4,129.4 L334.2,128.8 L335.0,128.2 L335.9,127.7 L336.7,127.1 L337.5,126.6 L338.4,126.0 L339.2,125.5 L340.1,125.0 L340.9,124.4 L341.7,123.9 L342.6,123.3 L343.4,122.8 L344.3,122.3 L345.1,121.7 L346.0,121.2 L346.8,120.7 L347.6,120.1 L348.5,119.6 L349.3,119.1 L350.2,118.5 L351.0,118.0 L351.9,117.5 L352.7,116.9 L353.6,116.4 L354.4,115.9 L355.3,115.3 L356.1,114.8 L357.0,114.3 L357.8,113.8 L358.7,113.2 L359.5,112.7 L360.4,112.2 L361.2,111.6 L362.1,111.1 L362.9,110.6 L363.7,110.0 L364.6,109.5 L365.4,109.0 L366.3,108.4 L367.1,107.9 L368.0,107.4 L368.8,106.8 L369.7,106.3 L370.5,105.8 L371.4,105.2 L372.2,104.7 L373.0,104.2 L373.9,103.6 L374.7,103.1 L375.6,102.6 L376.4,102.0 L377.3,101.5 L378.1,100.9 L378.9,100.4 L379.8,99.9 L380.6,99.3 L381.5,98.8 L382.3,98.3 L383.2,97.7 L384.0,97.2 L384.8,96.6 L385.7,96.1 L386.5,95.6 L387.4,95.0 L388.2,94.5 L389.1,93.9 L389.9,93.4 L390.7,92.9 L391.6,92.3 L392.4,91.8 L393.3,91.2 L394.1,90.7 L394.9,90.2 L395.8,89.6 L396.6,89.1 L397.5,88.5 L398.3,88.0 L399.1,87.4 L400.0,86.9 L400.8,86.4 L401.7,85.8 L402.5,85.3 L403.3,84.7 L404.2,84.2 L405.0,83.6 L405.9,83.1 L406.7,82.6 L407.6,82.0 L408.4,81.5 L409.2,80.9 L410.1,80.4 L410.9,79.9 L411.8,79.3 L412.6,78.8 L413.4,78.2 L414.3,77.7 L415.1,77.1 L416.0,76.6 L416.8,76.1 L417.6,75.5 L418.5,75.0 L419.3,74.4 L420.2,73.9 L421.0,73.4 L421.8,72.8 L422.7,72.3 L423.5,71.7 L424.4,71.2 L425.2,70.6 L426.0,70.1 L426.9,69.6 L427.7,69.0 L428.6,68.5 L429.4,67.9 L430.3,67.4 L431.1,66.9 L431.9,66.3 L432.8,65.8 L433.6,65.2 L434.5,64.7 L435.3,64.2 L436.2,63.6 L437.0,63.1 L437.8,62.6 L438.7,62.0 L439.5,61.5 L440.4,60.9 L441.2,60.4 L441.5,60.2"/>
<path stroke="#0000ff" stroke-width="1.5" stroke-dasharray="6.4,3.45" d="M250.8,299.5 L250.9,298.5 L251.1,297.5 L251.3,296.5 L251.4,295.5 L251.6,294.6 L251.7,293.6 L251.9,292.6 L252.0,291.6 L252.2,290.6 L252.4,289.6 L252.5,288.6 L252.7,287.7 L252.9,286.7 L253.0,285.7 L253.2,284.7 L253.4,283.7 L253.5,282.7 L253.7,281.7 L253.9,280.8 L254.1,279.8 L254.2,278.8 L254.4,277.8 L254.6,276.8 L254.8,275.8 L255.0,274.9 L255.2,273.9 L255.4,272.9 L255.5,271.9 L255.7,270.9 L255.9,270.0 L256.1,269.0 L256.3,268.0 L256.5,267.0 L256.7,266.0 L256.9,265.0 L257.1,264.1 L257.3,263.1 L257.5,262.1 L257.7,261.1 L257.9,260.2 L258.1,259.2 L258.3,258.2 L258.5,257.2 L258.8,256.2 L259.0,255.3 L259.2,254.3 L259.4,253.3 L259.6,252.3 L259.8,251.4 L260.1,250.4 L260.3,249.4 L260.5,248.4 L260.7,247.5 L260.9,246.5 L261.2,245.5 L261.4,244.5 L261.6,243.6 L261.9,242.6 L262.1,241.6 L262.3,240.6 L262.6,239.7 L262.8,238.7 L263.0,237.7 L263.3,236.7 L263.5,235.8 L263.7,234.8 L264.0,233.8 L264.2,232.9 L264.5,231.9 L264.7,230.9 L265.0,230.0 L265.2,229.0 L265.5,228.0 L265.7,227.0 L266.0,226.1 L266.2,225.1 L266.5,224.1 L266.7,223.2 L267.0,222.2 L267.2,221.2 L267.5,220.3 L267.7,219.3 L268.0,218.3 L268.3,217.4 L268.5,216.4 L268.8,215.4 L269.1,214.5 L269.3,213.5 L269.6,212.6 L269.9,211.6 L270.1,210.6 L270.4,209.7 L270.7,208.7 L271.0,207.7 L271.2,206.8 L271.5,205.8 L271.8,204.9 L272.1,203.9 L272.4,203.0 L272.7,202.0 L273.0,201.0 L273.3,200.1 L273.6,199.1 L273.9,198.2 L274.2,197.2 L274.5,196.3 L274.8,195.3 L275.1,194.4 L275.4,193.4 L275.7,192.5 L276.0,191.5 L276.4,190.6 L276.7,189.6 L277.0,188.7 L277.3,187.8 L277.6,187.0"/>
<path stroke="#800080" stroke-width="2.75" d="M46.4,296.3 L47.4,295.9 L48.3,295.6 L49.3,295.3 L50.2,295.0 L51.2,294.7 L52.1,294.4 L53.1,294.1 L54.0,293.8 L55.0,293.5 L55.9,293.2 L56.9,292.9 L57.8,292.6 L58.8,292.3 L59.7,292.0 L60.7,291.7 L61.6,291.4 L62.6,291.1 L63.6,290.8 L64.5,290.5 L65.5,290.2 L66.4,289.9 L67.4,289.6 L68.3,289.3 L69.3,288.9 L70.2,288.6 L71.2,288.3 L72.1,288.0 L73.1,287.7 L74.0,287.4 L75.0,287.1 L75.9,286.8 L76.9,286.5 L77.8,286.2 L78.8,285.9 L79.7,285.6 L80.7,285.3 L81.6,285.0 L82.6,284.7 L83.6,284.4 L84.5,284.1 L85.5,283.8 L86.4,283.4 L87.4,283.1 L88.3,282.8 L89.3,282.5 L90.2,282.2 L91.2,281.9 L92.1,281.6 L93.1,281.3 L94.0,281.0 L95.0,280.7 L95.9,280.4 L96.9,280.1 L97.8,279.8 L98.8,279.5 L99.7,279.2 L100.7,278.9 L101.6,278.5 L102.6,278.2 L103.5,277.9 L104.5,277.6 L105.4,277.3 L106.4,277.0 L107.3,276.7 L108.3,276.4 L109.3,276.1 L110.2,275.8 L111.2,275.5 L112.1,275.2 L113.1,274.9 L114.0,274.6 L115.0,274.2 L115.9,273.9 L116.9,273.6 L117.8,273.3 L118.8,273.0 L119.7,272.7 L120.7,272.4 L121.6,272.1 L122.6,271.8 L123.5,271.5 L124.5,271.2 L125.4,270.9 L126.4,270.6 L127.3,270.3 L128.3,270.0 L129.2,269.6 L130.2,269.3 L131.1,269.0 L132.1,268.7 L133.0,268.4 L134.0,268.1 L134.9,267.8 L135.9,267.5 L136.8,267.2 L137.8,266.9 L138.7,266.6 L139.7,266.3 L140.7,266.0 L141.6,265.6 L142.6,265.3 L143.5,265.0 L144.5,264.7 L145.4,264.4 L146.4,264.1 L147.3,263.8 L148.3,263.5 L149.2,263.2 L150.2,262.9 L151.1,262.6 L152.1,262.3 L153.0,262.0 L154.0,261.7 L154.9,261.3 L155.9,261.0 L156.8,260.7 L157.8,260.4 L158.7,260.1 L159.7,259.8 L160.6,259.5 L161.6,259.2 L162.5,258.9 L163.5,258.6 L164.4,258.3 L165.4,258.0 L166.3,257.7 L167.3,257.4 L168.2,257.0 L169.2,256.7 L170.1,256.4 L171.1,256.1 L172.0,255.8 L173.0,255.5 L173.9,255.2 L174.9,254.9 L175.9,254.6 L176.8,254.3 L177.8,254.0 L178.7,253.7 L179.7,253.4 L180.6,253.1 L181.6,252.7 L182.5,252.4 L183.5,252.1 L184.4,251.8 L185.4,251.5 L186.3,251.2 L187.3,250.9 L188.2,250.6 L189.2,250.3 L190.1,250.0 L191.1,249.7 L192.0,249.4 L193.0,249.1 L193.9,248.8 L194.9,248.5 L195.8,248.1 L196.8,247.8 L197.7,247.5 L198.7,247.2 L199.6,246.9 L200.6,246.6 L201.5,246.3 L202.5,246.0 L203.5,245.7 L204.4,245.4 L205.4,245.1 L206.3,244.8 L207.3,244.5 L208.2,244.2 L209.2,243.9 L210.1,243.6 L211.1,243.2 L212.0,242.9 L213.0,242.6 L213.9,242.3 L214.9,242.0 L215.8,241.7 L216.8,241.4 L217.7,241.1 L218.7,240.8 L219.6,240.5 L220.6,240.2 L221.5,239.9 L222.5,239.6 L223.5,239.3 L224.4,239.0 L225.4,238.7 L226.3,238.4 L227.3,238.1 L228.2,237.8 L229.2,237.4 L230.1,237.1 L231.1,236.8 L232.0,236.5 L233.0,236.2 L233.9,235.9 L234.9,235.6 L235.8,235.3 L236.8,235.0 L237.7,234.7 L238.7,234.4 L239.6,234.1 L240.6,233.8 L241.6,233.5 L242.5,233.2 L243.5,232.9 L244.4,232.6 L245.4,232.3 L246.3,232.0 L247.3,231.7 L248.2,231.4 L249.2,231.1 L250.1,230.8 L251.1,230.4 L252.0,230.1 L253.0,229.8 L253.9,229.5 L254.9,229.2 L255.9,228.9 L256.8,228.6 L257.8,228.3 L258.7,228.0 L259.7,227.7 L260.6,227.4 L261.6,227.1 L262.5,226.8 L263.5,226.5 L264.4,226.2 L265.4,225.9 L266.3,225.6 L267.3,225.3 L268.3,225.0 L269.2,224.7 L270.2,224.4 L271.1,224.1 L272.1,223.8 L273.0,223.5 L274.0,223.2 L274.9,222.9 L275.9,222.6 L276.8,222.3 L277.8,221.9 L278.7,221.6 L279.7,221.3 L280.6,221.0 L281.6,220.7 L282.5,220.3 L283.5,220.0 L284.4,219.7 L285.3,219.3 L286.3,219.0 L287.2,218.6 L288.1,218.3 L289.1,217.9 L290.0,217.5 L290.9,217.1 L291.8,216.7 L292.8,216.4 L293.7,215.9 L294.6,215.5 L295.5,215.1 L296.4,214.7 L297.3,214.2 L298.2,213.8 L299.0,213.3 L299.9,212.8 L300.8,212.3 L301.6,211.8 L302.5,211.3 L303.3,210.8 L304.2,210.2 L305.0,209.7 L305.8,209.1 L306.6,208.5 L307.4,207.9 L308.2,207.3 L309.0,206.7 L309.8,206.1 L310.6,205.5 L311.4,204.8 L312.1,204.2 L312.9,203.6 L313.7,202.9 L314.4,202.2 L315.2,201.6 L315.9,200.9 L316.6,200.2 L317.4,199.5 L318.1,198.8 L318.8,198.1 L319.5,197.4 L320.2,196.7 L320.9,196.0 L321.7,195.3 L322.4,194.6 L323.1,193.8 L323.8,193.1 L324.4,192.4 L325.1,191.7 L325.8,190.9 L326.5,190.2 L327.2,189.5 L327.9,188.7 L328.6,188.0 L329.3,187.3 L329.9,186.6 L330.6,185.8 L331.3,185.1 L332.0,184.4 L332.7,183.7 L333.3,183.0 L333.4,183.0 L333.9,182.1 L334.3,181.3 L334.8,180.4 L335.2,179.5 L335.6,178.6 L336.0,177.7 L336.4,176.8 L336.7,175.8 L337.1,174.9 L337.5,174.0 L337.8,173.0 L338.1,172.1 L338.4,171.1 L338.8,170.2 L339.1,169.2 L339.4,168.3 L339.7,167.3 L339.9,166.3 L340.2,165.4 L340.5,164.4 L340.8,163.4 L341.1,162.4 L341.3,161.5 L341.6,160.5 L341.9,159.5 L342.1,158.5 L342.4,157.6 L342.7,156.6 L343.0,155.6 L343.2,154.6 L343.5,153.7 L343.8,152.7 L344.1,151.7 L344.4,150.8 L344.7,149.8 L345.0,148.8 L345.3,147.9 L345.7,146.9 L346.0,146.0 L346.3,145.1 L346.7,144.1 L347.1,143.2 L347.4,142.3 L347.8,141.4 L348.2,140.4 L348.7,139.5 L349.1,138.6 L349.5,137.8 L350.0,136.9 L350.4,136.0 L350.9,135.1 L351.4,134.3 L351.9,133.4 L352.4,132.5 L352.9,131.7 L353.4,130.9 L354.0,130.0 L354.5,129.2 L355.1,128.4 L355.6,127.6 L356.2,126.7 L356.8,125.9 L357.4,125.1 L358.0,124.3 L358.6,123.6 L359.2,122.8 L359.8,122.0 L360.4,121.2 L361.1,120.5 L361.7,119.7 L362.4,119.0 L363.0,118.2 L363.7,117.5 L364.4,116.7 L365.0,116.0 L365.7,115.3 L366.4,114.6 L367.1,113.8 L367.8,113.1 L368.5,112.4 L369.2,111.7 L369.9,111.0 L370.6,110.3 L371.3,109.7 L372.1,109.0 L372.8,108.3 L373.5,107.6 L374.3,107.0 L375.0,106.3 L375.8,105.6 L376.5,105.0 L377.3,104.3 L378.0,103.7 L378.8,103.1 L379.6,102.4 L380.3,101.8 L381.1,101.2 L381.9,100.5 L382.7,99.9 L383.5,99.3 L384.3,98.7 L385.1,98.1 L385.9,97.5 L386.6,96.8 L387.5,96.2 L388.3,95.6 L389.1,95.1 L389.9,94.5 L390.7,93.9 L391.5,93.3 L392.3,92.7 L393.1,92.1 L394.0,91.5 L394.8,91.0 L395.6,90.4 L396.4,89.8 L397.3,89.2 L398.1,88.7 L398.9,88.1 L399.8,87.5 L400.6,87.0 L401.5,86.4 L402.3,85.9 L403.1,85.3 L404.0,84.8 L404.8,84.2 L405.7,83.7 L406.5,83.1 L407.4,82.6 L408.2,82.0 L409.0,81.5 L409.9,80.9 L410.7,80.4 L411.6,79.8 L412.4,79.3 L413.3,78.7 L414.1,78.2 L415.0,77.7 L415.8,77.1 L416.7,76.6 L417.5,76.0 L418.4,75.5 L419.2,74.9 L420.1,74.4 L420.9,73.9 L421.8,73.3 L422.6,72.8 L423.5,72.2 L424.3,71.7 L425.1,71.2 L426.0,70.6 L426.8,70.1 L427.7,69.5 L428.5,69.0 L429.3,68.4 L430.2,67.9 L431.0,67.4 L431.8,66.8 L432.7,66.3 L433.5,65.7 L434.3,65.2 L435.1,64.6 L436.0,64.1 L436.8,63.5 L437.6,62.9 L438.4,62.4 L439.2,61.8 L440.0,61.3 L440.8,60.7 L441.5,60.2"/>
<path stroke="#800080" stroke-width="1.5" stroke-dasharray="6.4,3.45" d="M318.3,299.3 L318.4,298.3 L318.5,297.3 L318.6,296.3 L318.7,295.3 L318.8,294.3 L318.9,293.3 L319.0,292.3 L319.1,291.3 L319.2,290.3 L319.3,289.4 L319.4,288.4 L319.5,287.4 L319.7,286.4 L319.8,285.4 L319.9,284.4 L320.0,283.4 L320.1,282.4 L320.2,281.4 L320.3,280.4 L320.4,279.4 L320.5,278.4 L320.7,277.4 L320.8,276.4 L320.9,275.4 L321.0,274.4 L321.1,273.5 L321.2,272.5 L321.4,271.5 L321.5,270.5 L321.6,269.5 L321.7,268.5 L321.8,267.5 L322.0,266.5 L322.1,265.5 L322.2,264.5 L322.3,263.5 L322.5,262.5 L322.6,261.5 L322.7,260.5 L322.8,259.6 L322.9,258.6 L323.1,257.6 L323.2,256.6 L323.3,255.6 L323.5,254.6 L323.6,253.6 L323.7,252.6 L323.8,251.6 L324.0,250.6 L324.1,249.6 L324.2,248.6 L324.4,247.7 L324.5,246.7 L324.6,245.7 L324.8,244.7 L324.9,243.7 L325.0,242.7 L325.2,241.7 L325.3,240.7 L325.4,239.7 L325.6,238.7 L325.7,237.7 L325.8,236.8 L326.0,235.8 L326.1,234.8 L326.2,233.8 L326.4,232.8 L326.5,231.8 L326.6,230.8 L326.8,229.8 L326.9,228.8 L327.1,227.8 L327.2,226.8 L327.3,225.9 L327.5,224.9 L327.6,223.9 L327.7,222.9 L327.9,221.9 L328.0,220.9 L328.2,219.9 L328.3,218.9 L328.4,217.9 L328.6,216.9 L328.7,216.0 L328.9,215.0 L329.0,214.0 L329.2,213.0 L329.3,212.0 L329.4,211.0 L329.6,210.0 L329.7,209.0 L329.9,208.0 L330.0,207.0 L330.1,206.1 L330.3,205.1 L330.4,204.1 L330.6,203.1 L330.7,202.1 L330.9,201.1 L331.0,200.1 L331.1,199.1 L331.3,198.1 L331.4,197.1 L331.6,196.2 L331.7,195.2 L331.9,194.2 L332.0,193.2 L332.2,192.2 L332.3,191.2 L332.4,190.2 L332.6,189.2 L332.7,188.2 L332.9,187.3 L333.0,186.3 L333.2,185.3 L333.3,184.3 L333.5,183.3 L333.5,183.0"/>
</g>
<!-- labels -->
<g font-size="19.5" stroke="#000" stroke-width="0.2" letter-spacing="0.25">
<text transform="translate(16.7,83.4) scale(0.95,1)">10<tspan font-size="14.4" dy="-6.5" dx="0">9</tspan></text>
<text transform="translate(16.7,127.6) scale(0.95,1)">10<tspan font-size="14.4" dy="-6.5" dx="0">5</tspan></text>
<text transform="translate(25.4,169.5) scale(0.95,1)">10</text>
<text transform="translate(-0.9,213.0) scale(0.95,1)">0<tspan dx="1.3">.</tspan>001</text>
<text transform="translate(8.3,260.0) scale(0.95,1)">10<tspan font-size="14.4" dy="-6.5" dx="0.5">−7</tspan></text>
<text transform="translate(1.9,304.2) scale(0.95,1)">10<tspan font-size="14.4" dy="-6.5" dx="0.6" letter-spacing="0.3">−11</tspan></text>
<text transform="translate(90.77,321.6) scale(0.95,1)">0<tspan dx="1.3">.</tspan>001</text>
<text transform="translate(168.87,321.6) scale(0.95,1)">0<tspan dx="1.3">.</tspan>1</text>
<text transform="translate(242.42,321.6) scale(0.95,1)">10</text>
<text transform="translate(300.92,321.6) scale(0.95,1)">1000</text>
<text transform="translate(375.3,321.6) scale(0.95,1)">10<tspan font-size="14.4" dy="-6.5" dx="0">5</tspan></text>
</g>
<!-- axis titles -->
<g font-style="italic" font-size="20">
<text transform="translate(36.9,15.5) scale(1.35,1.1)">J</text>
<text x="23.6" y="45.5">e</text>
<text transform="translate(34.2,45.5) scale(1.2,0.98)">H</text>
<text transform="translate(53.6,39.0) scale(1.12,1)" font-size="14.8" font-style="normal">3</text>
<text x="453.8" y="298.7">e</text>
<text transform="translate(463.9,298.7) scale(1.36,1.03)">E</text>
<text transform="translate(454.2,326.8) scale(1.2,0.98)">H</text>
<text transform="translate(473.0,322.4) scale(1.08,1.05)" font-size="15.2" font-style="normal">2</text>
</g>
<g stroke="#000" stroke-width="1.1">
<line x1="23.2" y1="24.8" x2="63.2" y2="24.8"/>
<line x1="452" y1="307.8" x2="482" y2="307.8"/>
</g>
</svg>
</body></html>
